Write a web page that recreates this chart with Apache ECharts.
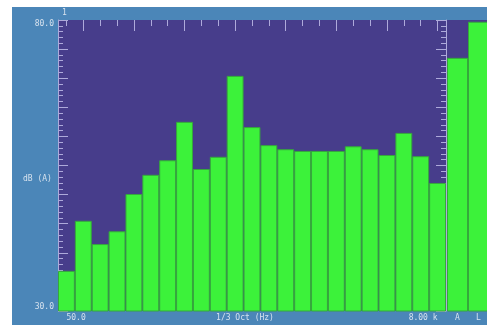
<!DOCTYPE html>
<html>
<head>
<meta charset="utf-8">
<script src="https://cdn.jsdelivr.net/npm/echarts@6/dist/echarts.min.js"></script>
<style>
  html, body { margin: 0; padding: 0; background: #fff; }
  #chart {
    position: absolute;
    left: 12px;
    top: 7px;
    width: 475px;
    height: 318px;
    background: #4b86b8;
  }
</style>
</head>
<body>
<div id="chart"></div>
<script>
// 1/3 octave bands, 50 Hz .. 8 kHz
const bands = ['50.0', '63.0', '80.0', '100', '125', '160', '200', '250', '315', '400', '500', '630',
  '800', '1.00 k', '1.25 k', '1.60 k', '2.00 k', '2.50 k', '3.15 k', '4.00 k', '5.00 k', '6.30 k', '8.00 k']
const levels = [36.9, 45.5, 41.5, 43.7, 50.1, 53.4, 55.9, 62.5, 54.4, 56.5, 70.4, 61.6,
  58.5, 57.8, 57.5, 57.5, 57.5, 58.3, 57.8, 56.8, 60.6, 56.6, 52.0]
const overall = ['A', 'L']
const overallLevels = [73.5, 79.7]
const yMin = 30
const yMax = 80

const purple = '#473d8b'
const green = '#3cf23a'
const tickColor = '#aeaadb'
const textColor = '#d6e2ee'
const font = 'DejaVu Sans Mono'

let chart = echarts.init(document.getElementById('chart'))

const lastIdx = bands.length - 1
const tickAxis = (position, len, every) => ({
  type: 'category',
  gridIndex: 0,
  position: position,
  data: bands,
  axisLine: { show: false },
  axisLabel: { show: false },
  axisTick: {
    show: true,
    inside: true,
    alignWithLabel: true,
    length: len,
    interval: (i) => every ? i % 3 === 1 : true,
    lineStyle: { color: position === 'top' ? tickColor : 'rgba(255,255,255,0.35)', width: 1 },
  },
})

chart.setOption({
  animation: false,
  grid: [
    { left: 46, top: 13, width: 388, height: 291, show: true, backgroundColor: purple, borderWidth: 0, outerBoundsMode: 'none', containLabel: false },
    { left: 435, top: 13, width: 42, height: 291, show: true, backgroundColor: purple, borderWidth: 0, outerBoundsMode: 'none', containLabel: false },
  ],
  graphic: [
    { type: 'text', left: 50, top: 2, style: { text: '1', fill: textColor, font: '8px ' + font } },
    { type: 'text', left: 11, top: 168, style: { text: 'dB (A)', fill: textColor, font: '8px ' + font } },
  ],
  xAxis: [
    {
      type: 'category',
      gridIndex: 0,
      position: 'bottom',
      data: bands,
      name: '1/3 Oct (Hz)',
      nameLocation: 'middle',
      nameGap: 3,
      nameMoveOverlap: false,
      nameTextStyle: { color: textColor, fontFamily: font, fontSize: 8, padding: [0, 14, 0, 0] },
      axisLine: { show: false },
      axisTick: {
        show: true,
        inside: true,
        alignWithLabel: true,
        length: 4,
        lineStyle: { color: 'rgba(255,255,255,0.35)' },
      },
      axisLabel: {
        interval: (i) => i === 0 || i === lastIdx,
        margin: 3,
        color: textColor,
        fontFamily: font,
        fontSize: 8,
        alignMinLabel: 'left',
        alignMaxLabel: 'right',
      },
    },
    tickAxis('bottom', 9, true),
    tickAxis('top', 6, false),
    tickAxis('top', 11, true),
    {
      type: 'category',
      gridIndex: 1,
      position: 'bottom',
      data: overall,
      axisLine: { show: false },
      axisTick: { show: false },
      axisLabel: { margin: 3, color: textColor, fontFamily: font, fontSize: 8 },
    },
  ],
  yAxis: [
    {
      type: 'value',
      gridIndex: 0,
      position: 'left',
      min: yMin,
      max: yMax,
      interval: 5,
      splitLine: { show: false },
      axisLine: { show: true, lineStyle: { color: tickColor } },
      axisTick: { show: true, inside: true, length: 10, lineStyle: { color: tickColor } },
      minorTick: { show: true, splitNumber: 5, length: 5, lineStyle: { color: tickColor } },
      axisLabel: {
        margin: 4,
        color: textColor,
        fontFamily: font,
        fontSize: 8,
        formatter: (v) => (v === yMin || v === yMax ? v.toFixed(1) : ''),
        verticalAlignMinLabel: 'bottom',
        verticalAlignMaxLabel: 'top',
      },
    },
    {
      type: 'value',
      gridIndex: 0,
      position: 'right',
      min: yMin,
      max: yMax,
      interval: 5,
      splitLine: { show: false },
      axisLine: { show: true, lineStyle: { color: tickColor } },
      axisTick: { show: true, inside: true, length: 10, lineStyle: { color: tickColor } },
      minorTick: { show: true, splitNumber: 5, length: 5, lineStyle: { color: tickColor } },
      axisLabel: { show: false },
    },
    {
      type: 'value',
      gridIndex: 1,
      min: yMin,
      max: yMax,
      show: false,
      splitLine: { show: false },
    },
  ],
  series: [
    {
      type: 'bar',
      xAxisIndex: 0,
      yAxisIndex: 0,
      data: levels,
      barCategoryGap: '0%',
      itemStyle: { color: green, borderColor: '#36a83c', borderWidth: 1 },
      z: 1,
    },
    {
      type: 'bar',
      xAxisIndex: 4,
      yAxisIndex: 2,
      data: overallLevels,
      barCategoryGap: '0%',
      itemStyle: { color: green, borderColor: '#36a83c', borderWidth: 1 },
      z: 1,
    },
  ],
})
</script>
</body>
</html>
